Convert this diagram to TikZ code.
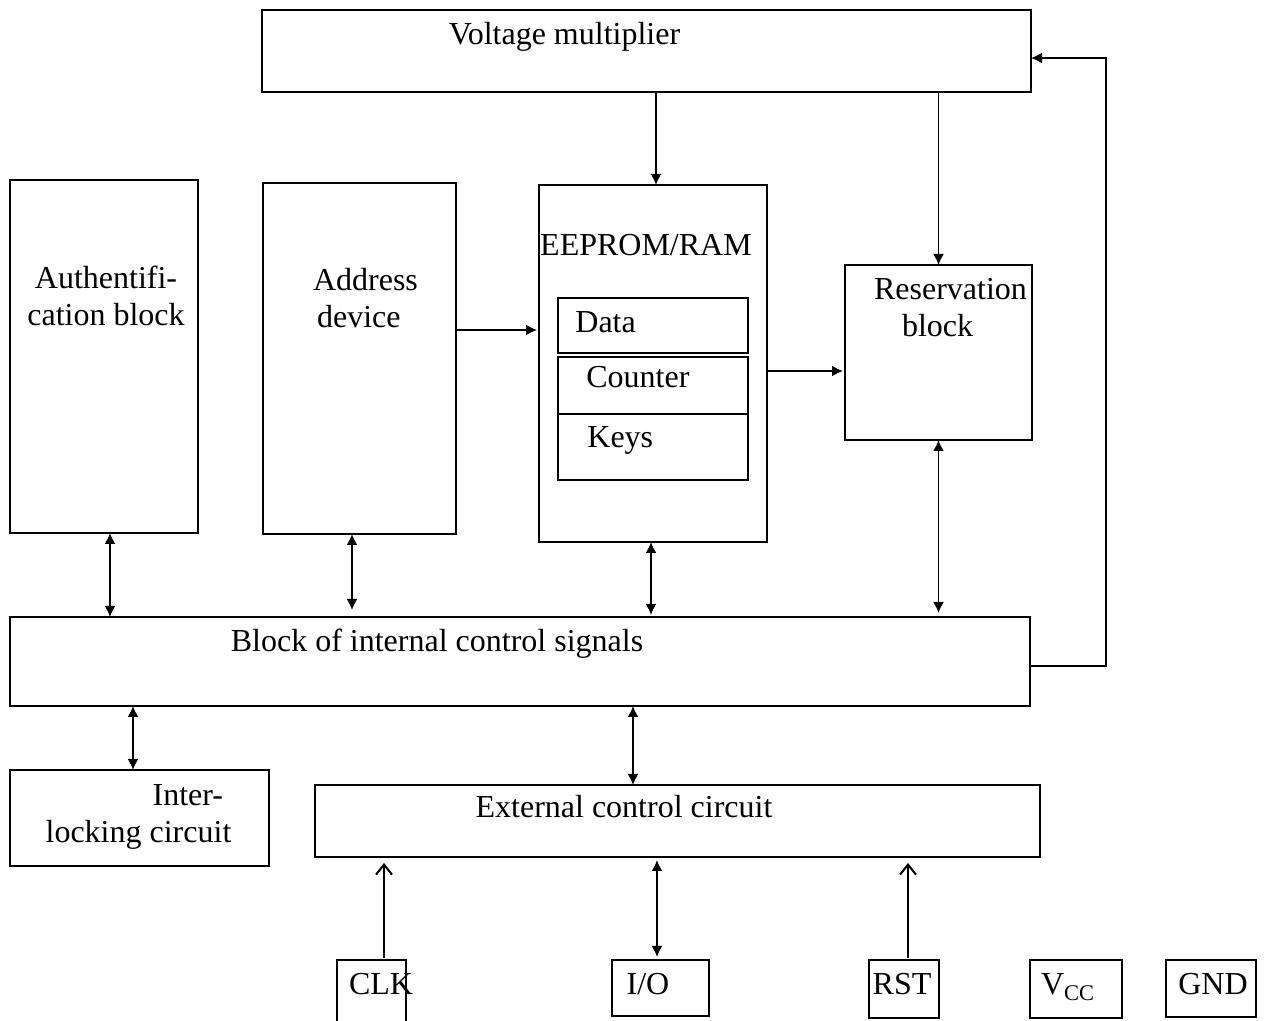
\documentclass[tikz,border=0pt]{standalone}
\usepackage{fontspec}
\setmainfont{Liberation Serif}
\usetikzlibrary{arrows.meta}
\begin{document}
\begin{tikzpicture}[
      x=0.5pt,y=-0.5pt,
      font=\fontsize{16}{18.5}\selectfont,
      box/.style={draw=black,line width=1.1pt,inner sep=0pt,outer sep=0pt},
      txt/.style={inner sep=0pt,align=center},
      arr/.style={line width=0.9pt,-{Latex[length=5.5pt,width=5.5pt]}},
      darr/.style={line width=0.9pt,{Latex[length=5.5pt,width=5.5pt]}-{Latex[length=5.5pt,width=5.5pt]}},
      pin/.style={line width=1pt,-{Straight Barb[length=5pt,width=8pt]}},
      ]
      \useasboundingbox (0,0) rectangle (1266,1021);
      % blocks
      \node[box,minimum width=384.5pt,minimum height=41pt] (vm) at (646.5,51) {};
      \node[box,minimum width=94pt,minimum height=176.5pt] (auth) at (104,356.5) {};
      \node[box,minimum width=96.5pt,minimum height=175.5pt] (addr) at (359.5,358.5) {};
      \node[box,minimum width=114pt,minimum height=178.5pt] (mem) at (653,363.5) {};
      \node[box,line width=0.9pt,minimum width=95pt,minimum height=27.5pt] (data) at (653,325.5) {};
      \node[box,line width=0.9pt,minimum width=95pt,minimum height=28.5pt] (cnt) at (653,385.5) {};
      \node[box,minimum width=95pt,minimum height=33pt] (keys) at (653,447) {};
      \node[box,minimum width=93.5pt,minimum height=87.5pt] (res) at (938.5,352.5) {};
      \node[box,minimum width=510pt,minimum height=44.5pt] (ics) at (520,661.5) {};
      \node[box,minimum width=129.5pt,minimum height=48pt] (lock) at (139.5,818) {};
      \node[box,minimum width=362.5pt,minimum height=36pt] (ext) at (677.5,821) {};
      % pins
      \node[box,minimum width=34.5pt,minimum height=40pt] (clk) at (371.5,1000) {};
      \node[box,minimum width=48.5pt,minimum height=28pt] (io) at (660.5,988) {};
      \node[box,minimum width=35pt,minimum height=29pt] (rst) at (904,989) {};
      \node[box,minimum width=46pt,minimum height=29pt] (vcc) at (1076,989) {};
      \node[box,minimum width=45pt,minimum height=28.5pt] (gnd) at (1211,988.5) {};
      % texts
      \node[txt,anchor=base] (vm-t) at (564.5,45) {Voltage multiplier};
      \node[txt] (auth-t) at (106,295.5) {Authentifi-\\cation block};
      \node[txt,align=left] (addr-t) at (365.5,298) {Address\\\hspace*{2pt}device};
      \node[txt,anchor=base] (mem-t) at (646,256) {EEPROM/RAM};
      \node[txt,anchor=base west] (data-t) at (575,333) {Data};
      \node[txt,anchor=base west] (cnt-t) at (586,388) {Counter};
      \node[txt,anchor=base west] (keys-t) at (587,448) {Keys};
      \node[txt,align=left] (res-t) at (950.5,307.5) {Reservation\\\hspace*{14pt}block};
      \node[txt,anchor=base] (ics-t) at (437,652) {Block of internal control signals};
      \node[txt,align=left] (lock-t) at (138.5,817) {\hspace*{53.5pt}Inter-\\locking circuit};
      \node[txt,anchor=base] (ext-t) at (624,818) {External control circuit};
      \node[txt,anchor=base] (clk-t) at (381,995) {CLK};
      \node[txt,anchor=base] (io-t) at (648,995) {I/O};
      \node[txt,anchor=base] (rst-t) at (902,995) {RST};
      \node[txt,anchor=base] (vcc-t) at (1068,995) {V\textsubscript{CC}};
      \node[txt,anchor=base] (gnd-t) at (1213,995) {GND};
      % columns and rows for the connectors
      \coordinate (c1) at (656,0);
      \coordinate (c2) at (110,0);
      \coordinate (c3) at (352,0);
      \coordinate (c4) at (651,0);
      \coordinate (c5) at (133,0);
      \coordinate (c6) at (633,0);
      \coordinate (c7) at (384,0);
      \coordinate (c8) at (657,0);
      \coordinate (c9) at (908,0);
      \coordinate (r1) at (0,330);
      \coordinate (r2) at (0,371);
      \coordinate (fb) at (1106,666);
      % connectors
      \draw[arr] (vm.south -| c1) -- (mem.north -| c1);
      \draw[arr] (vm.south -| res.north) -- (res.north);
      \draw[arr,shorten >=1pt] (addr.east |- r1) -- (mem.west |- r1);
      \draw[arr,shorten >=1pt] (mem.east |- r2) -- (res.west |- r2);
      \draw[arr] (ics.east |- fb) -- (fb) |- ([yshift=-3.5pt]vm.east);
      \draw[darr] (auth.south -| c2) -- (ics.north -| c2);
      \draw[darr,shorten >=3.5pt] (addr.south -| c3) -- (ics.north -| c3);
      \draw[darr,shorten >=1pt] (mem.south -| c4) -- (ics.north -| c4);
      \draw[darr,shorten >=2pt] (res.south) -- (ics.north -| res.south);
      \draw[darr] (ics.south -| c5) -- (lock.north -| c5);
      \draw[darr] (ics.south -| c6) -- (ext.north -| c6);
      \draw[pin,shorten <=1pt,shorten >=3pt] (clk.north -| c7) -- (ext.south -| c7);
      \draw[darr,shorten <=1.5pt,shorten >=1.5pt] (io.north -| c8) -- (ext.south -| c8);
      \draw[pin,shorten <=1pt,shorten >=3pt] (rst.north -| c9) -- (ext.south -| c9);
    \end{tikzpicture}
\end{document}
